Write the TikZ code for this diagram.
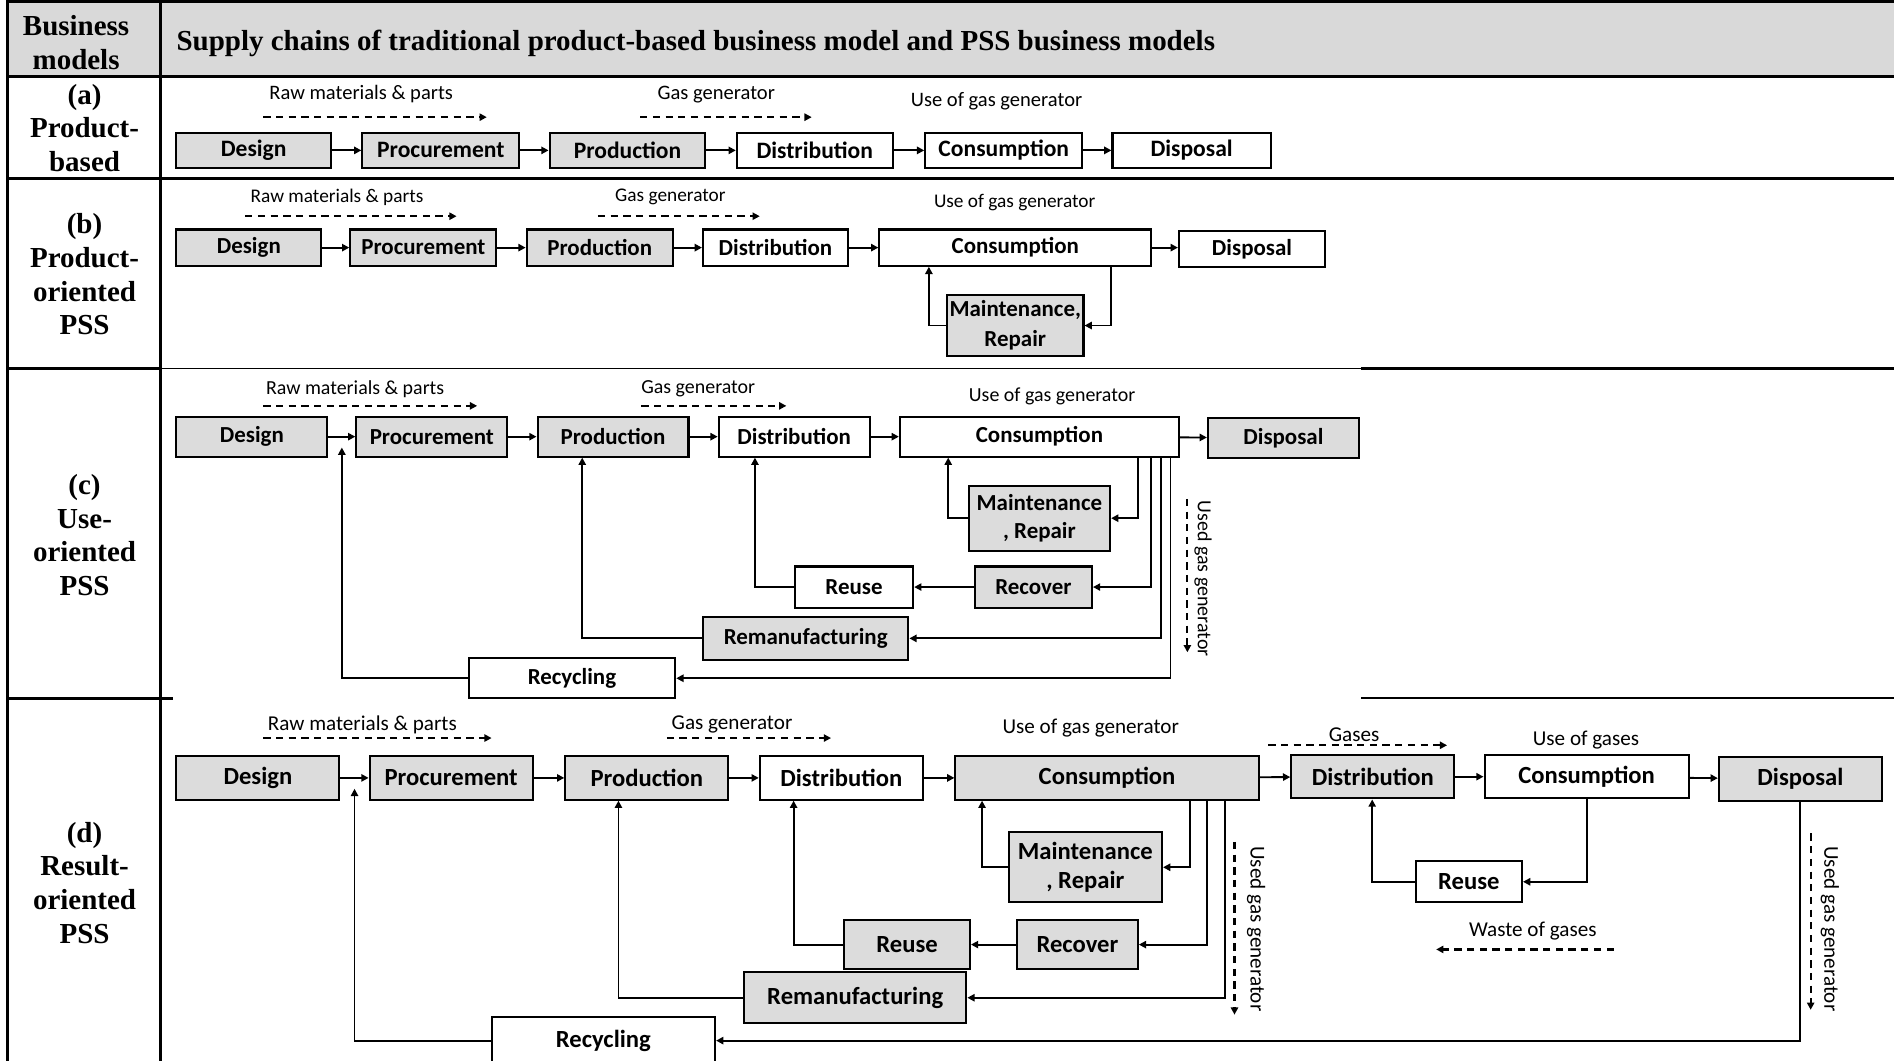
\documentclass[tikz,border=0pt]{standalone}
\usepackage{fontspec}
\setmainfont{Liberation Serif}
\newfontfamily\calfont{Carlito}
\usetikzlibrary{arrows.meta,calc}
\definecolor{boxgray}{RGB}{220,220,220}
\definecolor{headgray}{RGB}{217,217,217}
\begin{document}
\begin{tikzpicture}[x=1pt,y=-1pt,
  box/.style={draw, line width=1.7pt, inner sep=0pt, align=center, font=\bfont},
  gbox/.style={box, fill=boxgray},
  wbox/.style={box, fill=white},
  arr/.style={line width=1.5pt, -{Triangle[length=6pt,width=6pt]}},
  darr/.style={line width=1.8pt, dash pattern=on 6pt off 4.5pt, -{Triangle[length=6pt,width=6pt]}},
  lbl/.style={font=\lfont, inner sep=0pt},
  vlbl/.style={font=\lfont, inner sep=0pt, rotate=-90},
  serif/.style={font=\bfseries\fontsize{24}{28}\selectfont, align=center, inner sep=0pt},
  tline/.style={line width=2.5pt},
  thin/.style={line width=1.2pt}]
\newcommand\pbox[7]{\node[#1, minimum width={(#5-#3)*1pt}, minimum height={(#6-#4)*1pt}] (#2) at ({(#3+#5)/2},{(#4+#6)/2}) {#7};}
\useasboundingbox (0,0) rectangle (1568,878);
% ---------------- table ----------------
\fill[headgray] (6,1) rectangle (1568,63);
\draw[tline] (6,1) -- (1568,1);
\draw[tline] (6,63) -- (1568,63);
\draw[tline] (6,148) -- (1568,148);
\draw[tline] (6,305) -- (133,305);
\draw[thin] (133,305) -- (1127,305);
\draw[tline] (1127,305) -- (1568,305);
\draw[tline] (6,578) -- (143,578);
\draw[thin] (1127,578) -- (1568,578);
\draw[tline] (6,0) -- (6,878);
\draw[tline] (133,0) -- (133,878);
\node[serif] (hbm) at (63,35) {Business\\models};
\node[serif, anchor=west] (htitle) at (146,36) {Supply chains of traditional product-based business model and PSS business models};
\node[serif] (la) at (70,106) {(a)\\Product-\\based};
\node[serif] (lb) at (70,227) {(b)\\Product-\\oriented\\PSS};
\node[serif] (lc) at (70,443) {(c)\\Use-\\oriented\\PSS};
\node[serif] (ld) at (70,731) {(d)\\Result-\\oriented\\PSS};
% ---------------- (a) ----------------
\begin{scope}
\def\bfont{\calfont\bfseries\fontsize{19.5}{22}\selectfont}
\def\lfont{\calfont\fontsize{17}{20}\selectfont}
\pbox{gbox}{aDes}{146}{110}{274}{139}{Design}
\pbox{gbox}{aPro}{300}{110}{430}{139}{Procurement}
\pbox{gbox}{aPrd}{455}{110}{584}{139}{Production}
\pbox{wbox}{aDis}{610}{110}{739}{139}{Distribution}
\pbox{wbox}{aCon}{766}{110}{896}{139}{Consumption}
\pbox{wbox}{aDsp}{921}{110}{1052}{139}{Disposal}
\draw[arr] (aDes) -- (aPro);
\draw[arr] (aPro) -- (aPrd);
\draw[arr] (aPrd) -- (aDis);
\draw[arr] (aDis) -- (aCon);
\draw[arr] (aCon) -- (aDsp);
\node[lbl] (aL1) at (299,78) {Raw materials \& parts};
\node[lbl] (aL2) at (593,78) {Gas generator};
\node[lbl] (aL3) at (825,84) {Use of gas generator};
\draw[darr] (218,97) -- (403,97);
\draw[darr] (530,97) -- (672,97);
\end{scope}
% ---------------- (b) ----------------
\begin{scope}
\def\bfont{\calfont\bfseries\fontsize{19}{25}\selectfont}
\def\lfont{\calfont\fontsize{16}{19}\selectfont}
\pbox{gbox}{bDes}{146}{190}{266}{220}{Design}
\pbox{gbox}{bPro}{290}{190}{411}{220}{Procurement}
\pbox{gbox}{bPrd}{436}{190}{557}{220}{Production}
\pbox{wbox}{bDis}{582}{190}{702}{220}{Distribution}
\pbox{wbox}{bCon}{728}{190}{953}{220}{Consumption}
\pbox{wbox}{bDsp}{976}{191}{1097}{221}{Disposal}
\pbox{gbox}{bMR}{784}{244}{897}{295}{Maintenance,\\Repair}
\draw[arr] (bDes) -- (bPro);
\draw[arr] (bPro) -- (bPrd);
\draw[arr] (bPrd) -- (bDis);
\draw[arr] (bDis) -- (bCon);
\draw[arr] (bCon.east) -- (bDsp.west |- bCon.east);
\draw[arr] (bMR.west) -| (bCon.south -| 769,0);
\draw[arr] (bCon.south -| 920,0) |- (bMR.east);
\node[lbl] (bL1) at (279,163) {Raw materials \& parts};
\node[lbl] (bL2) at (555,163) {Gas generator};
\node[lbl] (bL3) at (840,168) {Use of gas generator};
\draw[darr] (203,179) -- (378,179);
\draw[darr] (495,179) -- (629,179);
\end{scope}
% ---------------- (c) ----------------
\begin{scope}
\def\bfont{\calfont\bfseries\fontsize{19}{23}\selectfont}
\def\lfont{\calfont\fontsize{16.5}{19}\selectfont}
\pbox{gbox}{cDes}{146}{345}{271}{378}{Design}
\pbox{gbox}{cPro}{295}{345}{420}{378}{Procurement}
\pbox{gbox}{cPrd}{445}{345}{570}{378}{Production}
\pbox{wbox}{cDis}{595}{345}{720}{378}{Distribution}
\pbox{wbox}{cCon}{745}{345}{976}{378}{Consumption}
\pbox{gbox}{cDsp}{1000}{346}{1125}{379}{Disposal}
\pbox{gbox}{cMR}{802}{402}{919}{456}{Maintenance\\, Repair}
\pbox{wbox}{cReu}{658}{469}{756}{503}{Reuse}
\pbox{gbox}{cRec}{807}{469}{904}{503}{Recover}
\pbox{gbox}{cRem}{582}{511}{752}{546}{Remanufacturing}
\pbox{wbox}{cRcy}{388}{545}{559}{578}{Recycling}
\draw[arr] (cDes) -- (cPro);
\draw[arr] (cPro) -- (cPrd);
\draw[arr] (cPrd) -- (cDis);
\draw[arr] (cDis) -- (cCon);
\draw[arr] (cCon) -- (cDsp);
\draw[arr] (cMR.west) -| (cCon.south -| 785,0);
\draw[arr] (cCon.south -| 942,0) |- (cMR.east);
\draw[arr] (cCon.south -| 953,0) |- (cRec.east);
\draw[arr] (cCon.south -| 961,0) |- (cRem.east);
\draw[arr] (cCon.south -| 969,0) |- (cRcy.east);
\draw[arr] (cRec) -- (cReu);
\draw[arr] (cReu.west) -| (cDis.south -| 625,0);
\draw[arr] (cRem.west) -| (cPrd.south -| 482,0);
\coordinate (cJ) at ($(cDes.east)!.5!(cPro.west)+(0,9)$);
\draw[arr] (cRcy.west) -| (cJ);
\node[lbl] (cL1) at (294,322) {Raw materials \& parts};
\node[lbl] (cL2) at (578,322) {Gas generator};
\node[lbl] (cL3) at (871,328) {Use of gas generator};
\draw[darr] (218,336) -- (395,336);
\draw[darr] (531,336) -- (651,336);
\node[vlbl] (cV) at (996,479) {Used gas generator};
\draw[darr] (983,413) -- (983,540);
\end{scope}
% ---------------- (d) ----------------
\begin{scope}
\def\bfont{\calfont\bfseries\fontsize{20.4}{24}\selectfont}
\def\lfont{\calfont\fontsize{17.5}{20}\selectfont}
\pbox{gbox}{dDes}{146}{626}{281}{662}{Design}
\pbox{gbox}{dPro}{306}{626}{441}{662}{Procurement}
\pbox{gbox}{dPrd}{468}{626}{603}{662}{Production}
\pbox{wbox}{dDis}{629}{626}{764}{662}{Distribution}
\pbox{gbox}{dCon}{791}{626}{1042}{662}{Consumption}
\pbox{gbox}{dDisB}{1069}{625}{1204}{661}{Distribution}
\pbox{wbox}{dConB}{1229}{625}{1398}{661}{Consumption}
\pbox{gbox}{dDsp}{1423}{627}{1558}{663}{Disposal}
\pbox{gbox}{dMR}{835}{689}{962}{747}{Maintenance\\, Repair}
\pbox{gbox}{dReu}{699}{762}{803}{802}{Reuse}
\pbox{gbox}{dRec}{842}{762}{942}{802}{Recover}
\pbox{gbox}{dRem}{616}{805}{800}{847}{Remanufacturing}
\pbox{wbox}{dRcy}{407}{842}{592}{881}{Recycling}
\pbox{wbox}{dReuB}{1172}{713}{1260}{747}{Reuse}
\draw[arr] (dDes) -- (dPro);
\draw[arr] (dPro) -- (dPrd);
\draw[arr] (dPrd) -- (dDis);
\draw[arr] (dDis) -- (dCon);
\draw[arr] (dCon) -- (dDisB);
\draw[arr] (dDisB) -- (dConB);
\draw[arr] (dConB) -- (dDsp);
\draw[arr] (dMR.west) -| (dCon.south -| 813,0);
\draw[arr] (dCon.south -| 985,0) |- (dMR.east);
\draw[arr] (dCon.south -| 999,0) |- (dRec.east);
\draw[arr] (dCon.south -| 1014,0) |- (dRem.east);
\draw[arr] (dRec) -- (dReu);
\draw[arr] (dReu.west) -| (dDis.south -| 657,0);
\draw[arr] (dRem.west) -| (dPrd.south -| 512,0);
\coordinate (dJ) at ($(dDes.east)!.5!(dPro.west)+(0,9)$);
\draw[arr] (dRcy.west) -| (dJ);
\draw[arr] (dDsp.south -| 1490,0) |- (dRcy.east);
\draw[arr] (dConB.south -| 1314,0) |- (dReuB.east);
\draw[arr] (dReuB.west) -| (dDisB.south -| 1136,0);
\node[lbl] (dL1) at (300,600) {Raw materials \& parts};
\node[lbl] (dL2) at (606,600) {Gas generator};
\node[lbl] (dL3) at (903,603) {Use of gas generator};
\node[lbl] (dL4) at (1121,608) {Gases};
\node[lbl] (dL5) at (1313,613) {Use of gases};
\node[lbl] (dL6) at (1269,771) {Waste of gases};
\draw[darr] (218,611) -- (407,611);
\draw[darr] (552,611) -- (688,611);
\draw[darr] (1050,617) -- (1198,617);
\draw[darr] (1336,786) -- (1189,786);
\node[vlbl] (dV1) at (1040,769) {Used gas generator};
\node[vlbl] (dV2) at (1515,769) {Used gas generator};
\draw[darr] (1022,697) -- (1022,840);
\draw[darr] (1499,690) -- (1499,836);
\end{scope}
\end{tikzpicture}
\end{document}
